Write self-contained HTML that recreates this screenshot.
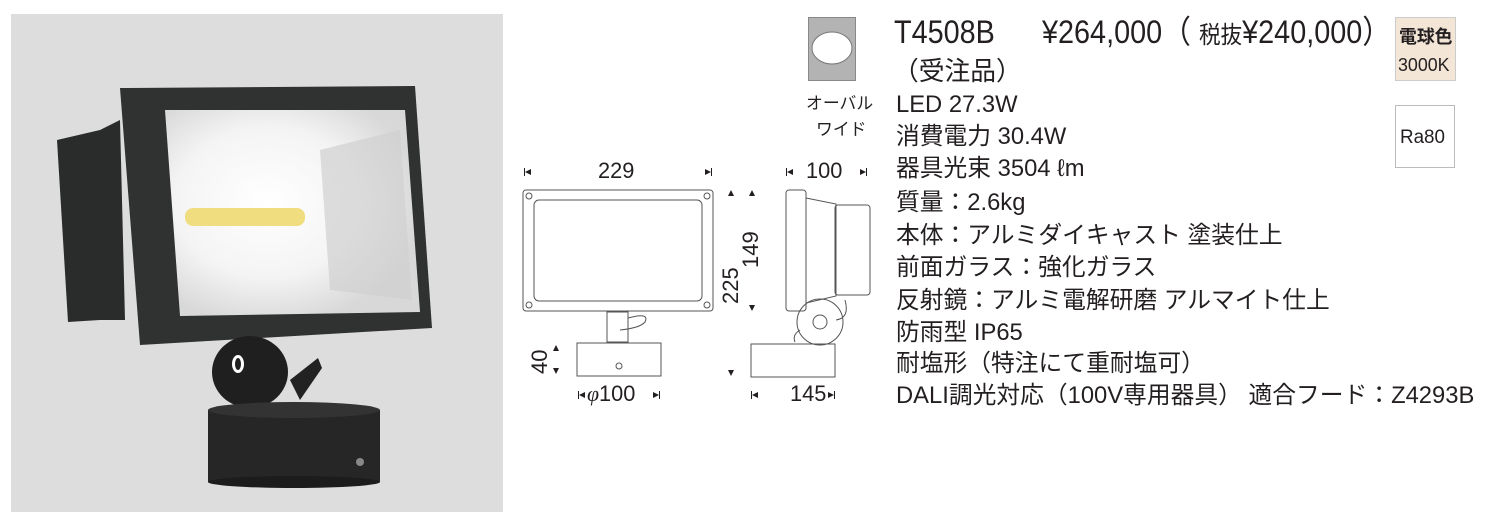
<!DOCTYPE html>
<html><head><meta charset="utf-8"><style>
body{margin:0;width:1497px;height:523px;background:#fff;position:relative;overflow:hidden;font-family:"Liberation Sans","Noto Sans CJK JP",sans-serif;color:#231f20}
.t{position:absolute;white-space:nowrap;font-size:24px;line-height:1;transform:scaleX(0.99);transform-origin:left center}
</style></head><body>
<svg width="1497" height="523" style="position:absolute;left:0;top:0">
<defs>
<radialGradient id="g" cx="0.4" cy="0.45" r="0.6"><stop offset="0" stop-color="#fff"/><stop offset="0.6" stop-color="#f4f4f4"/><stop offset="1" stop-color="#d8d8d8"/></radialGradient>
</defs>
<rect x="11" y="14" width="492" height="498" fill="#dcdddc"/>
<polygon points="57,140 100,130 120,120 125,320 100,320 68,322" fill="#2a2b2b"/>
<polygon points="120,88 415,86 432,328 140,345" fill="#303131"/>
<polygon points="165,110 405,110 420,312 180,316" fill="url(#g)"/>
<polygon points="320,150 400,130 412,300 330,290" fill="#d0d0d0" opacity="0.7"/>
<rect x="185" y="208" width="120" height="18" rx="8" fill="#f0dd80"/>
<ellipse cx="250" cy="372" rx="38" ry="36" fill="#1f1f1f"/>
<ellipse cx="238" cy="364" rx="6" ry="9" fill="#fff"/><ellipse cx="238" cy="364" rx="3" ry="6" fill="#1f1f1f"/>
<path d="M290 380 L318 358 L322 368 L300 400 Z" fill="#222"/>
<rect x="208" y="410" width="172" height="72" fill="#262626"/>
<ellipse cx="294" cy="410" rx="86" ry="8" fill="#333"/>
<ellipse cx="294" cy="482" rx="86" ry="6" fill="#1c1c1c"/>
<circle cx="360" cy="462" r="4" fill="#888"/>
<g stroke="#555" fill="none" stroke-width="1">
<rect x="523" y="190" width="190" height="121" rx="3"/>
<rect x="534" y="200" width="168" height="101" rx="5"/>
<circle cx="529" cy="196" r="3"/><circle cx="707" cy="196" r="3"/><circle cx="529" cy="305" r="3"/><circle cx="707" cy="305" r="3"/>
<rect x="607" y="312" width="21" height="30"/>
<path d="M628 318 Q650 312 645 322 Q640 328 620 330"/>
<rect x="577" y="343" width="84" height="33"/>
<circle cx="619" cy="366" r="3"/>
<rect x="786" y="190" width="20" height="121" rx="3"/>
<path d="M806 198 L836 204 L836 296 L806 303"/>
<rect x="835" y="205" width="35" height="90" rx="3"/>
<circle cx="820" cy="322" r="23"/><circle cx="820" cy="322" r="7"/>
<path d="M845 300 Q850 318 836 320"/><path d="M800 330 Q792 335 795 342"/>
<rect x="751" y="344" width="84" height="33"/>
</g>
<g fill="#231f20">
<polygon points="525,172 531,169 531,175"/>
<polygon points="711,172 705,169 705,175"/><rect x="711" y="168" width="1" height="8"/><rect x="524" y="168" width="1" height="8"/>
<polygon points="787,172 793,169 793,175"/><rect x="786" y="168" width="1" height="8"/>
<polygon points="866,172 860,169 860,175"/><rect x="866" y="168" width="1" height="8"/>
<polygon points="731,190 728,196 734,196"/><polygon points="752,190 749,196 755,196"/>
<polygon points="752,311 749,305 755,305"/><polygon points="731,376 728,370 734,370"/>
<polygon points="556,345 553,351 559,351"/><polygon points="556,374 553,368 559,368"/>
<polygon points="579,395 585,392 585,398"/><rect x="578" y="391" width="1" height="8"/>
<polygon points="659,395 653,392 653,398"/><rect x="659" y="391" width="1" height="8"/>
<polygon points="752,395 758,392 758,398"/><rect x="751" y="391" width="1" height="8"/>
<polygon points="834,395 828,392 828,398"/><rect x="834" y="391" width="1" height="8"/>
</g>
<rect x="808.5" y="17.5" width="47" height="63" fill="#b3b3b3" stroke="#888"/>
<ellipse cx="832" cy="48" rx="20" ry="16" fill="#fff" stroke="#777"/>
<rect x="1395.5" y="17.5" width="60" height="63" fill="#f3e6d6" stroke="#ccc"/>
<rect x="1395.5" y="105.5" width="59" height="62" fill="#fff" stroke="#bbb"/>
</svg>
<div class="t" style="left:598px;top:160px;font-size:22px">229</div>
<div class="t" style="left:806px;top:160px;font-size:22px">100</div>
<div class="t" style="left:587px;top:383px;font-size:22px"><i style="font-family:'Liberation Serif',serif">φ</i>100</div>
<div class="t" style="left:790px;top:383px;font-size:22px">145</div>
<div class="t" style="left:720px;top:304px;font-size:22px;transform:rotate(-90deg);transform-origin:left top">225</div>
<div class="t" style="left:740px;top:268px;font-size:22px;transform:rotate(-90deg);transform-origin:left top">149</div>
<div class="t" style="left:529px;top:374px;font-size:22px;transform:rotate(-90deg);transform-origin:left top">40</div>
<div class="t" style="left:894px;top:16px;font-size:32px;transform:scaleX(0.9)">T4508B</div>
<div class="t" style="left:1042px;top:16px;font-size:32px;transform:scaleX(0.9)">¥264,000（ <span style="font-size:24px">税抜</span>¥240,000）</div>
<div class="t" style="left:893px;top:58px;font-size:26px">（受注品）</div>
<div class="t" style="left:806px;top:95px;font-size:17px">オーバル</div>
<div class="t" style="left:816px;top:121px;font-size:17px">ワイド</div>
<div class="t" style="left:1399px;top:28px;font-size:18px;font-weight:bold">電球色</div>
<div class="t" style="left:1398px;top:56px;font-size:18px">3000K</div>
<div class="t" style="left:1400px;top:128px;font-size:19px">Ra80</div>
<div class="t" style="left:896px;top:93px">LED 27.3W</div>
<div class="t" style="left:896px;top:125px">消費電力 30.4W</div>
<div class="t" style="left:896px;top:157px">器具光束 3504 ℓm</div>
<div class="t" style="left:896px;top:191px">質量：2.6kg</div>
<div class="t" style="left:896px;top:224px">本体：アルミダイキャスト 塗装仕上</div>
<div class="t" style="left:896px;top:256px">前面ガラス：強化ガラス</div>
<div class="t" style="left:896px;top:289px">反射鏡：アルミ電解研磨 アルマイト仕上</div>
<div class="t" style="left:896px;top:321px">防雨型  IP65</div>
<div class="t" style="left:896px;top:352px">耐塩形（特注にて重耐塩可）</div>
<div class="t" style="left:896px;top:384px">DALI調光対応（100V専用器具） 適合フード：Z4293B</div>
</body></html>
